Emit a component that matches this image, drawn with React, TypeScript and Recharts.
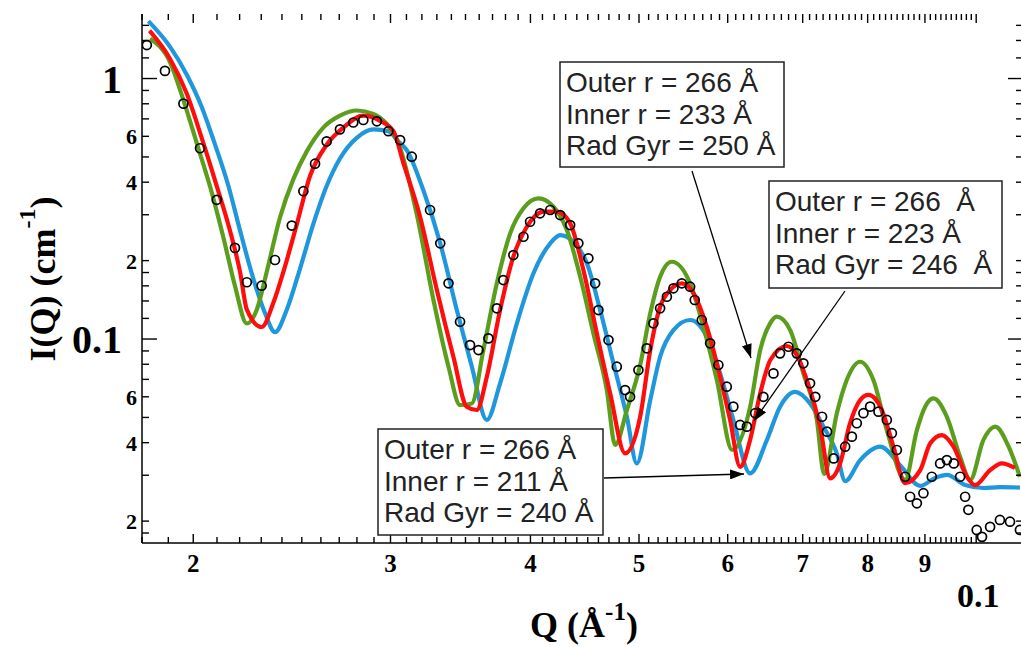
import React from 'react';
import { ComposedChart, Line, Scatter, XAxis, YAxis } from 'recharts';

// Model curves and SANS data
const GREEN_Q = [
  0.0183, 0.01907, 0.0196, 0.02021, 0.02078, 0.02128, 0.02179, 0.02233, 0.02279, 0.02326, 0.02391, 0.02457,
  0.02525, 0.02613, 0.02704, 0.02799, 0.02896, 0.02978, 0.03049, 0.0317, 0.03277, 0.0338, 0.03461, 0.03546,
  0.03631, 0.03733, 0.03837, 0.03943, 0.04067, 0.04194, 0.04311, 0.04431, 0.04553, 0.0468, 0.04761, 0.04877,
  0.05012, 0.05117, 0.05222, 0.05349, 0.05554, 0.05707, 0.05868, 0.06055, 0.06284, 0.06415, 0.06547, 0.06638,
  0.06822, 0.0701, 0.07207, 0.07316, 0.07509, 0.07664, 0.07878, 0.08095, 0.08322, 0.08641, 0.08852, 0.09004,
  0.09159, 0.09415, 0.09675, 0.09877, 0.1015, 0.104, 0.1069, 0.1094,
];
const GREEN_I = [
  1.42, 1.154, 0.826, 0.54, 0.364, 0.245, 0.16, 0.1147, 0.1296, 0.181, 0.294, 0.411,
  0.524, 0.648, 0.72, 0.754, 0.732, 0.668, 0.565, 0.2948, 0.1412, 0.0783, 0.0558, 0.0566,
  0.0907, 0.1636, 0.2545, 0.3175, 0.3467, 0.322, 0.2621, 0.1734, 0.1051, 0.0637, 0.0392, 0.0534,
  0.0795, 0.1255, 0.1734, 0.198, 0.1636, 0.1115, 0.0696, 0.0375, 0.055, 0.0907, 0.1149, 0.1218,
  0.1082, 0.0738, 0.0489, 0.0303, 0.0519, 0.0696, 0.0818, 0.0696, 0.0447, 0.0288, 0.0447, 0.055,
  0.0592, 0.0503, 0.0353, 0.0288, 0.041, 0.0461, 0.0386, 0.0296,
];

const RED_Q = [
  0.01828, 0.01907, 0.01973, 0.02035, 0.02099, 0.02157, 0.02202, 0.02233, 0.02302, 0.02358, 0.02407, 0.02475,
  0.02543, 0.02631, 0.02723, 0.02837, 0.02937, 0.03018, 0.03081, 0.03188, 0.033, 0.03414, 0.03509, 0.03582,
  0.03657, 0.03758, 0.03862, 0.03971, 0.04109, 0.04223, 0.0434, 0.0446, 0.04585, 0.04712, 0.04859, 0.05012,
  0.05117, 0.05222, 0.0533, 0.0546, 0.05594, 0.05747, 0.05907, 0.0603, 0.06155, 0.06283, 0.06415, 0.0655,
  0.06775, 0.06915, 0.0706, 0.07255, 0.07407, 0.0756, 0.07716, 0.07878, 0.08013, 0.08237, 0.08436, 0.0864,
  0.08913, 0.09099, 0.0932, 0.09545, 0.09811, 0.09978, 0.1029, 0.1054, 0.1083,
];
const RED_I = [
  1.526, 1.189, 0.878, 0.592, 0.3867, 0.2606, 0.181, 0.1296, 0.1112, 0.1377, 0.181, 0.2767,
  0.4234, 0.5566, 0.648, 0.72, 0.688, 0.628, 0.4725, 0.2948, 0.1542, 0.0855, 0.055, 0.0534,
  0.0717, 0.1292, 0.207, 0.2698, 0.3081, 0.3081, 0.278, 0.184, 0.1051, 0.0619, 0.0364, 0.0503,
  0.0907, 0.133, 0.1542, 0.1636, 0.1497, 0.1115, 0.0717, 0.0489, 0.0323, 0.041, 0.0619, 0.0831,
  0.094, 0.0868, 0.0696, 0.0461, 0.0292, 0.0333, 0.0475, 0.0583, 0.061, 0.0534, 0.0386, 0.028,
  0.0314, 0.0398, 0.0428, 0.0386, 0.0296, 0.0275, 0.0314, 0.0333, 0.032,
];

const BLUE_Q = [
  0.01824, 0.01907, 0.01973, 0.02035, 0.02092, 0.0215, 0.02202, 0.02263, 0.02318, 0.02366, 0.02424, 0.02491,
  0.0256, 0.02631, 0.02704, 0.02799, 0.02896, 0.02987, 0.03049, 0.03102, 0.03209, 0.03323, 0.03438, 0.03546,
  0.03657, 0.03758, 0.0389, 0.04025, 0.04166, 0.04252, 0.0437, 0.04492, 0.04616, 0.04744, 0.04877, 0.04978,
  0.05117, 0.05222, 0.05367, 0.05554, 0.05747, 0.05907, 0.0607, 0.06283, 0.06504, 0.06682, 0.06891, 0.07107,
  0.07305, 0.07509, 0.07639, 0.07878, 0.08209, 0.08552, 0.08913, 0.09191, 0.0942, 0.09775, 0.1015, 0.105, 0.1094,
];
const BLUE_I = [
  1.661, 1.323, 1.037, 0.778, 0.5566, 0.3867, 0.2606, 0.1703, 0.1257, 0.1063, 0.1296, 0.1865,
  0.2767, 0.3867, 0.493, 0.592, 0.638, 0.628, 0.5737, 0.5314, 0.3733, 0.233, 0.1292, 0.0783,
  0.0489, 0.0676, 0.1149, 0.1788, 0.233, 0.2507, 0.2362, 0.1952, 0.1292, 0.0807, 0.0503, 0.0333,
  0.0583, 0.0855, 0.1082, 0.1183, 0.102, 0.0738, 0.0489, 0.0305, 0.041, 0.055, 0.0627, 0.0566,
  0.0461, 0.0364, 0.0285, 0.0343, 0.0386, 0.0328, 0.0273, 0.0293, 0.0301, 0.0275, 0.0268, 0.027, 0.0269,
];

const DATA_Q = [
  0.01818, 0.01887, 0.0196, 0.02028, 0.02099, 0.02179, 0.02233, 0.02302, 0.02366, 0.02449, 0.02508, 0.02569,
  0.02631, 0.02704, 0.02779, 0.02837, 0.02917, 0.02987, 0.0306, 0.03134, 0.03254, 0.03323, 0.0338, 0.03461,
  0.03533, 0.03595, 0.03669, 0.03733, 0.03783, 0.03862, 0.03943, 0.03997, 0.0408, 0.04166, 0.04252, 0.0434,
  0.04414, 0.04506, 0.04569, 0.046, 0.04696, 0.04777, 0.04859, 0.04909, 0.04994, 0.05081, 0.0515, 0.05222,
  0.05295, 0.05367, 0.0546, 0.05554, 0.05607, 0.05689, 0.05787, 0.05886, 0.05989, 0.0607, 0.06155, 0.06241,
  0.06349, 0.06457, 0.06592, 0.06682, 0.06798, 0.06915, 0.0701, 0.07107, 0.07184, 0.07284, 0.07359, 0.0746,
  0.07639, 0.07745, 0.07824, 0.07931, 0.08041, 0.0818, 0.08322, 0.08409, 0.08495, 0.08641, 0.0873, 0.08852,
  0.08972, 0.09128, 0.09285, 0.09415, 0.0955, 0.09675, 0.09775, 0.0984, 0.1001, 0.1012, 0.1029, 0.105, 0.1072, 0.1094,
];
const DATA_I = [
  1.344, 1.07, 0.801, 0.54, 0.3424, 0.2238, 0.1652, 0.1602, 0.2011, 0.2727, 0.3694, 0.471,
  0.5737, 0.638, 0.678, 0.693, 0.685, 0.628, 0.5805, 0.501, 0.3128, 0.233, 0.1636, 0.1165,
  0.0948, 0.0907, 0.1006, 0.1312, 0.1684, 0.2101, 0.247, 0.282, 0.3038, 0.3128, 0.2992, 0.2739,
  0.233, 0.2041, 0.1636, 0.1292, 0.0991, 0.0783, 0.0637, 0.06, 0.076, 0.0921, 0.1149, 0.1312,
  0.1453, 0.1566, 0.1636, 0.1588, 0.1412, 0.1183, 0.0963, 0.0795, 0.0656, 0.055, 0.0468, 0.0461,
  0.0519, 0.06, 0.0738, 0.0881, 0.0934, 0.0881, 0.0807, 0.0676, 0.06, 0.0503, 0.0441, 0.0348,
  0.0386, 0.0422, 0.0475, 0.0519, 0.055, 0.0526, 0.0489, 0.0435, 0.0375, 0.0296, 0.0248, 0.0234,
  0.0256, 0.0296, 0.0333, 0.0343, 0.0333, 0.0296, 0.0248, 0.0221, 0.0185, 0.0174, 0.019, 0.0202, 0.0199, 0.0185,
];

// axes
const X_MIN = 0.018;
const X_MAX = 0.1101;
const Y_MIN = 0.01648;
const Y_MAX = 1.769;

const X_LABEL_VALUES = [0.02, 0.03, 0.04, 0.05, 0.06, 0.07, 0.08, 0.09, 0.1];
const X_LABELS = ['2', '3', '4', '5', '6', '7', '8', '9', '0.1'];
const X_TICKS = Array.from({ length: 83 }, (_, k) => Math.round((0.018 + k * 0.001) * 1000) / 1000);

const Y_TICKS = [
  0.018, 0.02, 0.03, 0.04, 0.05, 0.06, 0.07, 0.08, 0.09, 0.1, 0.12, 0.14, 0.16, 0.18,
  0.2, 0.3, 0.4, 0.5, 0.6, 0.7, 0.8, 0.9, 1, 1.2, 1.4, 1.6,
];
const Y_LABEL_VALUES = [0.02, 0.04, 0.06, 0.1, 0.2, 0.4, 0.6, 1];
const Y_LABELS = ['2', '4', '6', '0.1', '2', '4', '6', '1'];

const PLOT_TOP = 14;
const PLOT_BOTTOM = 543;
const PLOT_RIGHT = 1023;
const PLOT_LEFT = 142;

const SERIF = '"Liberation Serif", "Times New Roman", serif';
const SANS = '"Liberation Sans", Arial, sans-serif';

const zip = (qs: number[], is: number[]) => qs.map((q, k) => ({ q, i: is[k] }));
const greenData = zip(GREEN_Q, GREEN_I);
const redData = zip(RED_Q, RED_I);
const blueData = zip(BLUE_Q, BLUE_I);
const sansData = zip(DATA_Q, DATA_I);

const same = (a: number, b: number) => Math.abs(a - b) < 1e-7;

function XTick(props: any) {
  const { x, payload } = props;
  const idx = X_LABEL_VALUES.findIndex((v) => same(v, payload.value));
  const len = idx >= 0 ? 9 : 6;
  return (
    <g>
      <line x1={x} x2={x} y1={PLOT_BOTTOM} y2={PLOT_BOTTOM - len} stroke='#000' strokeWidth={1.4} />
      <line x1={x} x2={x} y1={PLOT_TOP} y2={PLOT_TOP + len} stroke='#000' strokeWidth={1.4} />
      {idx >= 0 && idx < 8 && (
        <text x={x} y={572} textAnchor='middle' fontFamily={SERIF} fontWeight='bold' fontSize={25} fill='#000'>
          {X_LABELS[idx]}
        </text>
      )}
      {idx === 8 && (
        <text x={x + 2} y={607} textAnchor='middle' fontFamily={SERIF} fontWeight='bold' fontSize={34} fill='#000'>
          {X_LABELS[idx]}
        </text>
      )}
    </g>
  );
}

function YTick(props: any) {
  const { y, payload } = props;
  const v = payload.value;
  const major = same(v, 1) || same(v, 0.1);
  const idx = Y_LABEL_VALUES.findIndex((t) => same(t, v));
  const len = major ? 15 : 7;
  return (
    <g>
      <line x1={PLOT_LEFT} x2={PLOT_LEFT + len} y1={y} y2={y} stroke='#000' strokeWidth={1.4} />
      <line x1={PLOT_RIGHT} x2={PLOT_RIGHT - len} y1={y} y2={y} stroke='#000' strokeWidth={1.4} />
      {idx >= 0 && (
        <text
          x={major ? 122 : 137}
          y={y + (major ? 14 : 8)}
          textAnchor='end'
          fontFamily={SERIF}
          fontWeight='bold'
          fontSize={major ? 40 : 22}
          fill='#000'
        >
          {Y_LABELS[idx]}
        </text>
      )}
    </g>
  );
}

const Ring = (p: any) => (
  <circle cx={p.cx} cy={p.cy} r={4.5} fill='none' stroke='#000' strokeWidth={1.7} />
);

function Note({ x, y, w, h, lines }: { x: number; y: number; w: number; h: number; lines: string[] }) {
  return (
    <g>
      <rect x={x} y={y} width={w} height={h} fill='#fff' stroke='#222' strokeWidth={1.5} />
      {lines.map((t, k) => (
        <text
          key={k}
          x={x + 6}
          y={y + 30 + k * 31.5}
          fontFamily={SANS}
          fontSize={28}
          fill='#222'
          style={{ whiteSpace: 'pre' }}
        >
          {t}
        </text>
      ))}
    </g>
  );
}

export default function App() {
  return (
    <div style={{ position: 'absolute', left: 0, top: 0, width: 1021, height: 647, overflow: 'hidden', background: '#fff' }}>
      <ComposedChart width={1030} height={647} margin={{ top: PLOT_TOP, right: 1030 - PLOT_RIGHT, bottom: 0, left: 0 }}>
        <XAxis
          dataKey='q'
          type='number'
          scale='log'
          domain={[X_MIN, X_MAX]}
          allowDataOverflow
          ticks={X_TICKS}
          interval={0}
          height={647 - PLOT_BOTTOM}
          tickLine={false}
          axisLine={{ stroke: '#000', strokeWidth: 1.5 }}
          tick={(p: any) => <XTick {...p} />}
        />
        <XAxis
          xAxisId='top'
          dataKey='q'
          type='number'
          scale='log'
          orientation='top'
          domain={[X_MIN, X_MAX]}
          allowDataOverflow
          height={0}
          tick={false}
          tickLine={false}
          axisLine={{ stroke: '#000', strokeWidth: 1.5 }}
        />
        <YAxis
          dataKey='i'
          type='number'
          scale='log'
          domain={[Y_MIN, Y_MAX]}
          allowDataOverflow
          ticks={Y_TICKS}
          interval={0}
          width={PLOT_LEFT}
          tickLine={false}
          axisLine={{ stroke: '#000', strokeWidth: 1.5 }}
          tick={(p: any) => <YTick {...p} />}
        />
        <Scatter data={sansData} dataKey='i' shape={Ring} isAnimationActive={false} />
        <Line data={blueData} dataKey='i' type='monotone' stroke='#1f97dc' strokeWidth={4.2} dot={false} activeDot={false} isAnimationActive={false} />
        <Line data={greenData} dataKey='i' type='monotone' stroke='#5b9e1d' strokeWidth={4.2} dot={false} activeDot={false} isAnimationActive={false} />
        <Line data={redData} dataKey='i' type='monotone' stroke='#ff0d0d' strokeWidth={4.2} dot={false} activeDot={false} isAnimationActive={false} />
      </ComposedChart>

      <svg width={1021} height={647} style={{ position: 'absolute', left: 0, top: 0, pointerEvents: 'none' }}>
        <defs>
          <marker id='head' markerWidth={14} markerHeight={10} refX={14} refY={5} orient='auto' markerUnits='userSpaceOnUse'>
            <path d='M0,0 L14,5 L0,10 z' fill='#000' />
          </marker>
        </defs>

        <Note x={560} y={62} w={224} h={105} lines={['Outer r = 266 Å', 'Inner r = 233 Å', 'Rad Gyr = 250 Å']} />
        <Note x={769} y={181} w={233} h={107} lines={['Outer r = 266  Å', 'Inner r = 223 Å', 'Rad Gyr = 246  Å']} />
        <Note x={378} y={429} w={225} h={106} lines={['Outer r = 266 Å', 'Inner r = 211 Å', 'Rad Gyr = 240 Å']} />

        <line x1={692} y1={171} x2={751} y2={358} stroke='#000' strokeWidth={1.3} markerEnd='url(#head)' />
        <line x1={845} y1={291} x2={754} y2={421} stroke='#000' strokeWidth={1.3} markerEnd='url(#head)' />
        <line x1={604} y1={478} x2={744} y2={474} stroke='#000' strokeWidth={1.3} markerEnd='url(#head)' />

        <text transform='translate(55,279) rotate(-90)' textAnchor='middle' fontFamily={SERIF} fontWeight='bold' fontSize={36} fill='#000'>
          I(Q) (cm
          <tspan dy={-20} fontSize={24}>-1</tspan>
          <tspan dy={20}>)</tspan>
        </text>
        <text x={584} y={637} textAnchor='middle' fontFamily={SERIF} fontWeight='bold' fontSize={36} fill='#000'>
          Q (Å
          <tspan dy={-17} fontSize={25}>-1</tspan>
          <tspan dy={17}>)</tspan>
        </text>
      </svg>
    </div>
  );
}
